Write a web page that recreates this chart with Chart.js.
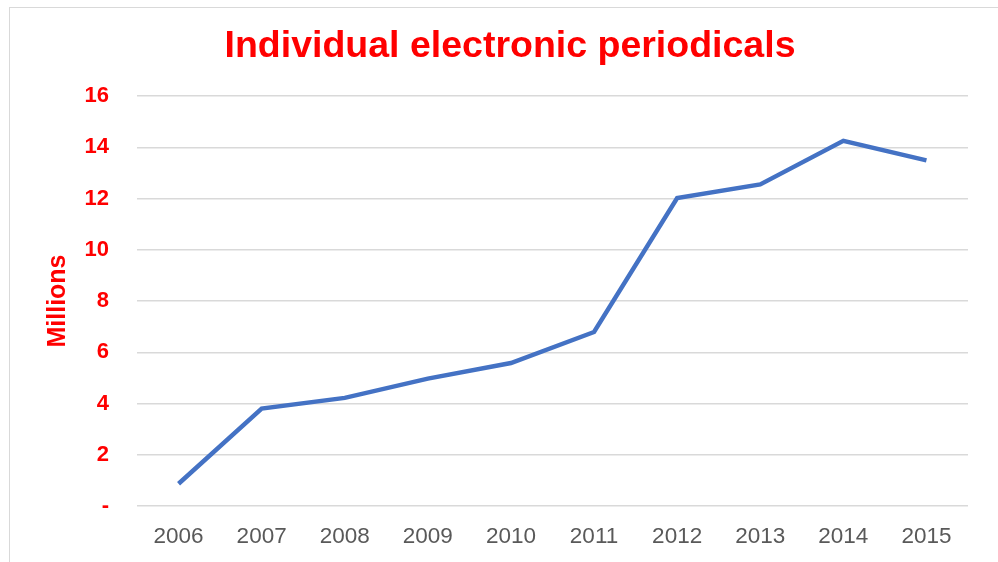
<!DOCTYPE html>
<html>
<head>
<meta charset="utf-8">
<script src="https://cdn.jsdelivr.net/npm/chart.js@4"></script>
<style>
  body { margin: 0; background: #fff; overflow: hidden; }
  #wrap { position: relative; width: 998px; height: 562px; }
  #frame { position: absolute; left: 9px; top: 7px; width: 1000px; height: 600px;
           border: 1.5px solid #d9d9d9; pointer-events: none; }
  canvas { position: absolute; left: 0; top: 0; }
</style>
</head>
<body>
<div id="wrap">
  <div id="frame"></div>
  <canvas id="lineChart" width="998" height="562"></canvas>
</div>
<script>
// Chart data
const years = ['2006', '2007', '2008', '2009', '2010', '2011', '2012', '2013', '2014', '2015'];
const periodicals = [0.87, 3.8, 4.22, 4.97, 5.58, 6.79, 12.02, 12.55, 14.25, 13.49]; // millions
const zeroLabel = '-'; // Excel style zero tick

const red = '#ff0000';
const fontFamily = '"Liberation Sans", Arial, sans-serif';

const ctx = document.getElementById('lineChart').getContext('2d');
const chart = new Chart(ctx, {
    type: 'line',
    data: {
        labels: years,
        datasets: [{
            label: 'Individual electronic periodicals',
            data: periodicals,
            borderColor: '#4472c4',
            borderWidth: 4.5,
            pointRadius: 0,
            tension: 0,
            fill: false
        }]
    },
    options: {
        responsive: false,
        animation: false,
        layout: {
            // left padding keeps the title centred where Excel put it
            padding: { top: 0, right: 30, bottom: 0, left: 52 }
        },
        plugins: {
            legend: { display: false },
            tooltip: { enabled: false },
            title: {
                display: true,
                text: 'Individual electronic periodicals',
                color: red,
                font: { family: fontFamily, size: 37.5, weight: 'bold', lineHeight: 1.2 },
                padding: { top: 24.5, bottom: 26.5 }
            }
        },
        scales: {
            x: {
                offset: true,
                grid: { display: false, drawTicks: false },
                border: { display: false },
                ticks: {
                    color: '#595959',
                    padding: 17,
                    maxRotation: 0,
                    font: { family: fontFamily, size: 22.5 }
                },
                afterFit: (scale) => { scale.height = 56; }
            },
            y: {
                min: 0,
                max: 16,
                grid: { color: '#d9d9d9', lineWidth: 1.5, drawTicks: false },
                border: { display: false },
                ticks: {
                    stepSize: 2,
                    color: red,
                    padding: 28,
                    font: { family: fontFamily, size: 22, weight: 'bold' },
                    callback: (value) => value === 0 ? zeroLabel : value
                },
                title: {
                    display: true,
                    text: 'Millions',
                    color: red,
                    padding: { top: -9, bottom: 0 },
                    font: { family: fontFamily, size: 25, weight: 'bold', lineHeight: 1.2 }
                },
                afterFit: (scale) => { scale.width = 85; }
            }
        }
    }
});
</script>
</body>
</html>
